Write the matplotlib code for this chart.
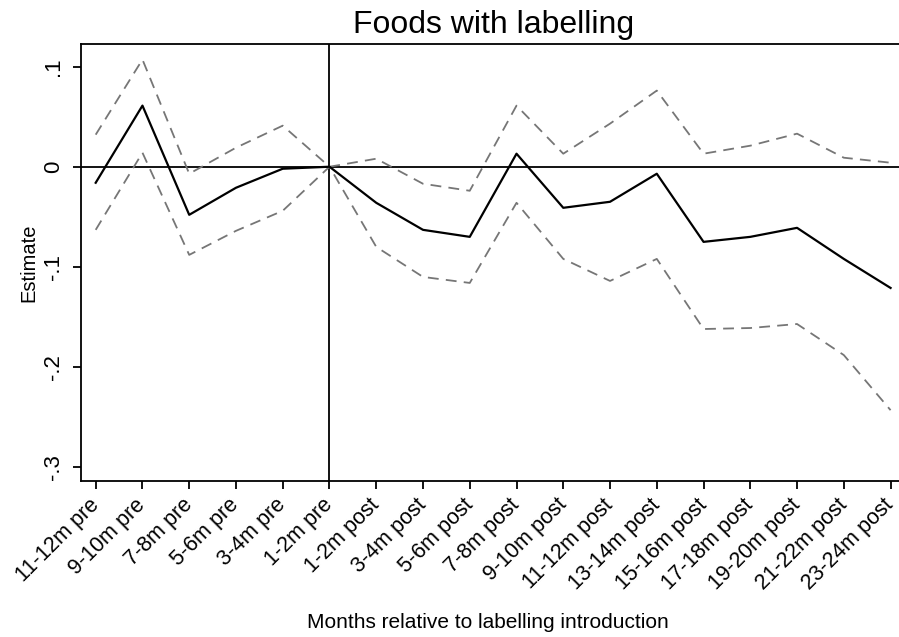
import numpy as np
import matplotlib.pyplot as plt

plt.rcParams['font.family'] = ['Liberation Sans', 'DejaVu Sans']

periods = ['11-12m pre', '9-10m pre', '7-8m pre', '5-6m pre', '3-4m pre', '1-2m pre',
           '1-2m post', '3-4m post', '5-6m post', '7-8m post', '9-10m post', '11-12m post',
           '13-14m post', '15-16m post', '17-18m post', '19-20m post', '21-22m post', '23-24m post']

estimate = [-0.016, 0.061, -0.048, -0.021, -0.002, 0.0,
            -0.036, -0.063, -0.070, 0.013, -0.041, -0.035,
            -0.007, -0.075, -0.070, -0.061, -0.092, -0.121]
upper_ci = [0.032, 0.107, -0.007, 0.019, 0.041, 0.0,
            0.008, -0.017, -0.024, 0.061, 0.013, 0.043,
            0.076, 0.013, 0.021, 0.033, 0.009, 0.004]
lower_ci = [-0.063, 0.014, -0.088, -0.064, -0.044, 0.0,
            -0.080, -0.110, -0.116, -0.036, -0.092, -0.114,
            -0.092, -0.162, -0.161, -0.157, -0.188, -0.243]

y_ticks = [-0.3, -0.2, -0.1, 0.0, 0.1]
y_tick_labels = ['-.3', '-.2', '-.1', '0', '.1']

fig = plt.figure(figsize=(8.99, 6.37), dpi=100)
# axes box placed to match the reference; right edge runs off the figure
ax = fig.add_axes([80.5 / 899, 156 / 637, (906 - 80.5) / 899, 437 / 637])

x = np.arange(len(periods))
ax.axhline(0, color='black', lw=1.3, zorder=1)
ax.axvline(5, color='black', lw=1.3, zorder=1)

ax.plot(x, upper_ci, color='#767676', lw=1.3, linestyle=(0, (6, 4)), zorder=2)
ax.plot(x, lower_ci, color='#767676', lw=1.3, linestyle=(0, (6, 4)), zorder=2)
ax.plot(x, estimate, color='black', lw=1.6, zorder=3)

ax.set_xlim(-0.325, 17.33)
ax.set_ylim(-0.3137, 0.1225)

ax.set_xticks(x)
ax.set_xticklabels(periods, rotation=45, ha='right', va='center',
                   rotation_mode='anchor', fontsize=15.5)
ax.set_yticks(y_ticks)
ax.set_yticklabels(y_tick_labels, rotation=90, va='center', fontsize=16)
ax.tick_params(axis='both', direction='out', length=6, width=1.3, color='black')
ax.tick_params(axis='x', pad=9)
ax.tick_params(axis='y', pad=6)

for side in ['left', 'bottom', 'top', 'right']:
    ax.spines[side].set_linewidth(1.3)

ax.set_ylabel('Estimate', fontsize=14.5, labelpad=3)
# x-axis title placed in figure coords so it sits just above the bottom edge
fig.text(488 / 899, 1 - 623 / 637, 'Months relative to labelling introduction',
         fontsize=15, ha='center', va='center')
ax.set_title('Foods with labelling', fontsize=23, pad=8)

fig.savefig('out.png', dpi=100)
